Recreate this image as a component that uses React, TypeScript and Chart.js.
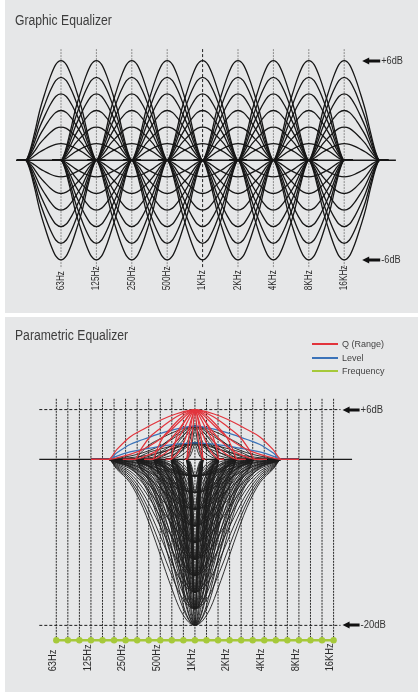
import React, { useEffect, useRef } from 'react';
import { Chart, registerables } from 'chart.js';

Chart.register(...registerables);

// ---------------- Graphic equalizer data ----------------
const GEQ_BANDS = ['63Hz', '125Hz', '250Hz', '500Hz', '1KHz', '2KHz', '4KHz', '8KHz', '16KHz'];
const GEQ_GAINS = [6, 5, 4, 3, 2, 1, -1, -2, -3, -4, -5, -6];
// bell profile (offset in bands, fraction of gain)
const GEQ_SHAPE_X = [-1.25, -1, -0.9, -0.75, -0.6, -0.45, -0.3, -0.15, 0, 0.15, 0.3, 0.45, 0.6, 0.75, 0.9, 1, 1.25];
const GEQ_SHAPE_Y = [0, 0, 0.07, 0.27, 0.5, 0.68, 0.84, 0.96, 1, 0.96, 0.84, 0.68, 0.5, 0.27, 0.07, 0, 0];
const GEQ_MARKERS = ['+6dB', '-6dB'];
const GEQ_MARKER_DB = [6, -6];
const GEQ_HIGHLIGHT = '1KHz';
const GEQ_GRID_DB = [6.7, -6.5];
const GEQ_ZERO_SPAN = [-1.24, 9.46];

// ---------------- Parametric equalizer data ----------------
const PEQ_TICKS = [
  '63Hz', '', '', '125Hz', '', '', '250Hz', '', '', '500Hz', '', '', '1KHz',
  '', '', '2KHz', '', '', '4KHz', '', '', '8KHz', '', '', '16KHz',
];
const PEQ_CENTER = 12;
const PEQ_WIDTHS = [0.7, 2.1, 3.65, 5.2, 7.5];
const PEQ_BOOSTS = [6, 4, 2];
const PEQ_CUTS = [-2, -4, -6, -8, -10, -12, -14, -16, -18, -20];
const PEQ_SHAPE_X = [-1.2, -1, -0.9, -0.75, -0.6, -0.45, -0.3, -0.15, 0, 0.15, 0.3, 0.45, 0.6, 0.75, 0.9, 1, 1.2];
const PEQ_BOOST_ROUND = [0, 0, 0.2, 0.45, 0.6, 0.74, 0.86, 0.95, 1, 0.95, 0.86, 0.74, 0.6, 0.45, 0.2, 0, 0];
const PEQ_BOOST_SHARP = [0, 0, 0.03, 0.1, 0.2, 0.35, 0.55, 0.8, 1, 0.8, 0.55, 0.35, 0.2, 0.1, 0.03, 0, 0];
const PEQ_CUT_ROUND = [0, 0, 0.06, 0.14, 0.29, 0.5, 0.73, 0.925, 1, 0.925, 0.73, 0.5, 0.29, 0.14, 0.06, 0, 0];
const PEQ_CUT_SHARP = [0, 0, 0.02, 0.05, 0.14, 0.32, 0.6, 0.88, 1, 0.88, 0.6, 0.32, 0.14, 0.05, 0.02, 0, 0];
const PEQ_MARKERS = ['+6dB', '-20dB'];
const PEQ_MARKER_DB = [6, -20];
const PEQ_GRID_DB = [7.3, -21.8];
const PEQ_FREQ_DB = -21.8;
const PEQ_DASH_SPAN = [-1.47, 24.6];
const PEQ_ZERO_SPAN = [-1.47, 25.6];
const PEQ_LEGEND = ['Q (Range)', 'Level', 'Frequency'];

const RED = '#e2343c';
const BLUE = '#3b73b9';
const GREEN = '#a6c93a';
const BG = '#e6e7e8';

type Pt = { x: number; y: number };

function bell(center: number, halfWidth: number, gain: number, sx: number[], sy: number[]): Pt[] {
  return sx.map((t, k) => ({ x: center + t * halfWidth, y: gain * sy[k] }));
}

function curve(data: Pt[], color: string, width: number, order: number) {
  return {
    data,
    borderColor: color,
    borderWidth: width,
    pointRadius: 0,
    fill: false,
    cubicInterpolationMode: 'monotone' as const,
    order,
  };
}

function seg(data: Pt[], color: string, width: number, dash: number[], order: number) {
  return {
    data,
    borderColor: color,
    borderWidth: width,
    borderDash: dash,
    pointRadius: 0,
    fill: false,
    tension: 0,
    order,
  };
}

type AnnotOpts = {
  ticks: string[];
  tickFont: string;
  tickScale: number;
  tickDx: number;
  tickBottom: (y: any) => number;
  lastIndex: number;
  arrowTip: number;
  arrowTail: number;
  markers: string[];
  markerDb: number[];
  markerScale: number;
};

function annotPlugin(o: AnnotOpts) {
  return {
    id: 'annot',
    afterDatasetsDraw(chart: any) {
      const { ctx } = chart;
      const xs = chart.scales.x;
      const ys = chart.scales.y;
      ctx.save();
      ctx.fillStyle = '#2a2a2a';
      ctx.font = o.tickFont;
      ctx.textAlign = 'left';
      ctx.textBaseline = 'middle';
      const by = o.tickBottom(ys);
      o.ticks.forEach((t, i) => {
        if (!t) return;
        const px = xs.getPixelForValue(i) + o.tickDx;
        ctx.save();
        ctx.translate(px, by);
        ctx.rotate(-Math.PI / 2);
        ctx.scale(o.tickScale, 1);
        ctx.fillText(t, 0, 0);
        ctx.restore();
      });
      const xr = xs.getPixelForValue(o.lastIndex);
      o.markers.forEach((m, i) => {
        const py = Math.round(ys.getPixelForValue(o.markerDb[i]));
        const tip = xr + o.arrowTip;
        const tail = xr + o.arrowTail;
        ctx.fillStyle = '#111';
        ctx.beginPath();
        ctx.moveTo(tip, py);
        ctx.lineTo(tip + 7, py - 3.5);
        ctx.lineTo(tip + 7, py + 3.5);
        ctx.closePath();
        ctx.fill();
        ctx.fillRect(tip + 6, py - 1.5, tail - tip - 6, 3);
        ctx.fillStyle = '#333';
        ctx.font = '10px "Liberation Sans", Arial, sans-serif';
        ctx.save();
        ctx.translate(tail + 1, py);
        ctx.scale(o.markerScale, 1);
        ctx.fillText(m, 0, 0);
        ctx.restore();
      });
      ctx.restore();
    },
  };
}

function baseOptions(xMin: number, xMax: number, yMin: number, yMax: number) {
  return {
    animation: false as const,
    responsive: false,
    maintainAspectRatio: false,
    events: [] as any[],
    layout: { padding: 0 },
    plugins: {
      legend: { display: false },
      tooltip: { enabled: false },
      title: { display: false },
    },
    scales: {
      x: { type: 'linear' as const, min: xMin, max: xMax, display: false },
      y: { type: 'linear' as const, min: yMin, max: yMax, display: false },
    },
  };
}

function topConfig(): any {
  const datasets: any[] = [];
  GEQ_BANDS.forEach((b, i) => {
    const hi = b === GEQ_HIGHLIGHT;
    datasets.push(
      seg(
        [{ x: i, y: GEQ_GRID_DB[0] }, { x: i, y: GEQ_GRID_DB[1] }],
        hi ? '#222' : '#8c8c8c',
        1,
        hi ? [3, 2] : [2, 1],
        20,
      ),
    );
  });
  datasets.push(seg([{ x: GEQ_ZERO_SPAN[0], y: 0 }, { x: GEQ_ZERO_SPAN[1], y: 0 }], '#1a1a1a', 1.4, [], 15));
  GEQ_BANDS.forEach((_, i) => {
    GEQ_GAINS.forEach((g) => {
      datasets.push(curve(bell(i, 1, g, GEQ_SHAPE_X, GEQ_SHAPE_Y), '#161616', 1.3, 5));
    });
  });
  return {
    type: 'line',
    data: { datasets },
    options: baseOptions(-1.7232, 10.0847, -9.199, 9.657),
    plugins: [
      annotPlugin({
        ticks: GEQ_BANDS,
        tickFont: '10px "Liberation Sans", Arial, sans-serif',
        tickScale: 0.82,
        tickDx: 0,
        tickBottom: (y) => y.getPixelForValue(GEQ_GRID_DB[1]) + 22,
        lastIndex: GEQ_BANDS.length - 1,
        arrowTip: 18,
        arrowTail: 36,
        markers: GEQ_MARKERS,
        markerDb: GEQ_MARKER_DB,
        markerScale: 0.92,
      }),
    ],
  };
}

function bottomConfig(): any {
  const datasets: any[] = [];
  PEQ_TICKS.forEach((_, i) => {
    datasets.push(seg([{ x: i, y: PEQ_GRID_DB[0] }, { x: i, y: PEQ_GRID_DB[1] }], '#2a2a2a', 1, [2, 1], 20));
  });
  PEQ_MARKER_DB.forEach((db) => {
    datasets.push(seg([{ x: PEQ_DASH_SPAN[0], y: db }, { x: PEQ_DASH_SPAN[1], y: db }], '#1a1a1a', 1, [3, 2], 19));
  });
  datasets.push(seg([{ x: PEQ_ZERO_SPAN[0], y: 0 }, { x: PEQ_ZERO_SPAN[1], y: 0 }], '#1a1a1a', 1.3, [], 15));
  PEQ_WIDTHS.forEach((w) => {
    PEQ_CUTS.forEach((c) => {
      [PEQ_CUT_ROUND, PEQ_CUT_SHARP].forEach((s) => {
        datasets.push(curve(bell(PEQ_CENTER, w, c, PEQ_SHAPE_X, s), '#1c1c1c', 0.9, 6));
      });
    });
  });
  PEQ_WIDTHS.forEach((w, wi) => {
    PEQ_BOOSTS.forEach((g) => {
      [PEQ_BOOST_ROUND, PEQ_BOOST_SHARP].forEach((s, si) => {
        const isQ = g === PEQ_BOOSTS[0];
        const isLevel = wi === PEQ_WIDTHS.length - 1 && si === 0;
        const color = isQ ? RED : isLevel ? BLUE : '#1c1c1c';
        const order = isQ ? 1 : isLevel ? 2 : 5;
        datasets.push(curve(bell(PEQ_CENTER, w, g, PEQ_SHAPE_X, s), color, isQ || isLevel ? 1.2 : 0.9, order));
      });
    });
  });
  datasets.push({
    data: PEQ_TICKS.map((_, i) => ({ x: i, y: PEQ_FREQ_DB })),
    borderColor: GREEN,
    borderWidth: 2.5,
    pointRadius: 3.2,
    pointBackgroundColor: GREEN,
    pointBorderWidth: 0,
    fill: false,
    tension: 0,
    order: 0,
  });
  return {
    type: 'line',
    data: { datasets },
    options: baseOptions(-4.525, 30.96, -27.547, 16.675),
    plugins: [
      annotPlugin({
        ticks: PEQ_TICKS,
        tickFont: '10px "Liberation Sans", Arial, sans-serif',
        tickScale: 0.93,
        tickDx: -3,
        tickBottom: (y) => y.getPixelForValue(PEQ_FREQ_DB) + 31,
        lastIndex: PEQ_TICKS.length - 1,
        arrowTip: 9,
        arrowTail: 26,
        markers: PEQ_MARKERS,
        markerDb: PEQ_MARKER_DB,
        markerScale: 0.95,
      }),
    ],
  };
}

const titleStyle: React.CSSProperties = {
  position: 'absolute',
  left: 15,
  font: '14px "Liberation Sans", Arial, sans-serif',
  lineHeight: '16px',
  color: '#3d3d3d',
  transform: 'scaleX(0.87)',
  transformOrigin: 'left top',
  whiteSpace: 'nowrap',
};

export default function App() {
  const topRef = useRef<HTMLCanvasElement>(null);
  const botRef = useRef<HTMLCanvasElement>(null);

  useEffect(() => {
    const charts: Chart[] = [];
    if (topRef.current) charts.push(new Chart(topRef.current, topConfig()));
    if (botRef.current) charts.push(new Chart(botRef.current, bottomConfig()));
    return () => charts.forEach((c) => c.destroy());
  }, []);

  const legendColors = [RED, BLUE, GREEN];
  const legendY = [344, 358, 371];

  return (
    <div style={{ position: 'absolute', left: 0, top: 0, width: 418, height: 692, background: '#fff', overflow: 'hidden' }}>
      <div style={{ position: 'absolute', left: 5, top: 0, width: 413, height: 313, background: BG }} />
      <div style={{ position: 'absolute', left: 5, top: 317, width: 413, height: 375, background: BG }} />
      <canvas ref={topRef} width={418} height={313} style={{ position: 'absolute', left: 0, top: 0, width: 418, height: 313 }} />
      <canvas ref={botRef} width={418} height={375} style={{ position: 'absolute', left: 0, top: 317, width: 418, height: 375 }} />
      <div style={{ ...titleStyle, top: 12 }}>Graphic Equalizer</div>
      <div style={{ ...titleStyle, top: 327 }}>Parametric Equalizer</div>
      {PEQ_LEGEND.map((t, i) => (
        <React.Fragment key={t}>
          <div style={{ position: 'absolute', left: 312, top: legendY[i] - 0.75, width: 26, height: 1.5, background: legendColors[i] }} />
          <div
            style={{
              position: 'absolute',
              left: 342,
              top: legendY[i] - 5.5,
              font: '9px "Liberation Sans", Arial, sans-serif',
              lineHeight: '11px',
              color: '#444',
              whiteSpace: 'nowrap',
            }}
          >
            {t}
          </div>
        </React.Fragment>
      ))}
    </div>
  );
}
